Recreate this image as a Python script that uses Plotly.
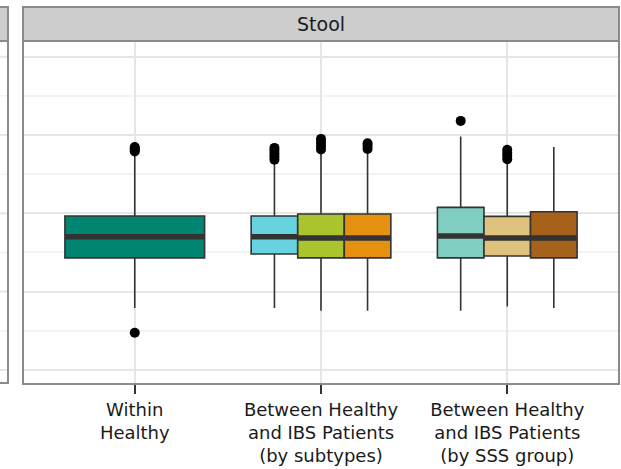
import numpy as np
import plotly.graph_objects as go

# ---- data ----
categories = ["Within<br>Healthy",
              "Between Healthy<br>and IBS Patients<br>(by subtypes)",
              "Between Healthy<br>and IBS Patients<br>(by SSS group)"]
box_names = ["Within Healthy", "IBS-C", "IBS-D", "IBS-M", "Mild", "Moderate", "Severe"]
box_group = [1, 2, 2, 2, 3, 3, 3]
box_slot = [0, -1, 0, 1, -1, 0, 1]
box_colors = ["#018571", "#67D3E0", "#A9C42C", "#E5900F", "#80CDC1", "#DFC27D", "#A6611A"]
lower_fence = [0.358, 0.358, 0.351, 0.351, 0.351, 0.362, 0.358]
q1 = [0.486, 0.496, 0.486, 0.486, 0.486, 0.491, 0.486]
median = [0.540, 0.540, 0.537, 0.537, 0.542, 0.537, 0.537]
q3 = [0.593, 0.593, 0.598, 0.598, 0.615, 0.592, 0.604]
upper_fence = [0.755, 0.731, 0.757, 0.754, 0.796, 0.736, 0.769]
outliers = [
    [0.295, 0.758, 0.762, 0.766, 0.769],
    [0.737, 0.745, 0.752, 0.760, 0.767],
    [0.763, 0.772, 0.781, 0.790],
    [0.764, 0.772, 0.779],
    [0.836],
    [0.738, 0.746, 0.754, 0.762],
    [],
]
panel_title = "Stool"
y_range = [0.164, 1.040]
y_major = 0.2
y_minor = 0.1

# ---- figure ----
W, H = 621, 469
ML, MR, MT, MB = 23, 2, 41, 85
plot_w = W - ML - MR
plot_h = H - MT - MB

fig = go.Figure()

dodge_w = 0.25
for i in range(len(box_names)):
    w = 0.75 if box_group[i] == 1 else dodge_w
    pos = box_group[i] + box_slot[i] * dodge_w
    fig.add_trace(go.Box(
        x=[pos], q1=[q1[i]], median=[median[i]], q3=[q3[i]],
        lowerfence=[lower_fence[i]], upperfence=[upper_fence[i]],
        width=w, fillcolor=box_colors[i], boxpoints=False,
        line=dict(color="#333333", width=1.6), whiskerwidth=0,
        name=box_names[i], showlegend=False, hoverinfo="skip"))
    fig.add_trace(go.Scatter(
        x=[pos - w / 2, pos + w / 2], y=[median[i], median[i]],
        mode="lines", line=dict(color="#333333", width=5.5),
        showlegend=False, hoverinfo="skip"))
    if outliers[i]:
        fig.add_trace(go.Scatter(
            x=[pos] * len(outliers[i]), y=outliers[i], mode="markers",
            marker=dict(color="black", size=10),
            showlegend=False, hoverinfo="skip"))

grid_major = "#E6E6E6"
grid_minor = "#F3F3F3"
font = dict(family="DejaVu Sans", size=18, color="#1a1a1a")

fig.update_layout(
    width=W, height=H,
    margin=dict(l=ML, r=MR, t=MT, b=MB, autoexpand=False),
    paper_bgcolor="white", plot_bgcolor="white",
    boxmode="overlay",
    font=font,
    xaxis=dict(range=[0.4, 3.6], automargin=False,
               tickvals=[1, 2, 3], ticktext=categories,
               showgrid=True, gridcolor=grid_major, gridwidth=2,
               ticks="outside", ticklen=9, tickwidth=1.5, tickcolor="#333333",
               zeroline=False, tickfont=font),
    yaxis=dict(range=y_range, dtick=y_major, tick0=0, showticklabels=False, ticks="",
               automargin=False,
               showgrid=True, gridcolor=grid_major, gridwidth=2, zeroline=False,
               minor=dict(dtick=y_minor, showgrid=True, gridcolor=grid_minor, gridwidth=1.5)),
)

strip_top = 1 + 34 / plot_h
border = dict(color="#8A8A8A", width=2)

# partial neighbouring panel at the left edge (shares the y scale)
lx0, lx1 = -60 / plot_w, -15 / plot_w
minor_vals = np.arange(np.ceil(y_range[0] / y_minor) * y_minor, y_range[1], y_minor)
for v in minor_vals:
    is_major = abs(v / y_major - round(v / y_major)) < 1e-6
    fig.add_shape(type="line", xref="paper", yref="y", x0=lx0, x1=lx1, y0=v, y1=v,
                  line=dict(color=grid_major if is_major else grid_minor,
                            width=2 if is_major else 1.5), layer="below")
fig.add_shape(type="rect", xref="paper", yref="paper", x0=lx0, x1=lx1, y0=1 / plot_h, y1=1,
              line=border, fillcolor="rgba(0,0,0,0)", layer="above")
fig.add_shape(type="rect", xref="paper", yref="paper", x0=lx0, x1=lx1, y0=1, y1=strip_top,
              line=border, fillcolor="#CDCDCD", layer="above")

# main panel border and strip
fig.add_shape(type="rect", xref="paper", yref="paper", x0=0, x1=1, y0=0, y1=1,
              line=border, fillcolor="rgba(0,0,0,0)", layer="above")
fig.add_shape(type="rect", xref="paper", yref="paper", x0=0, x1=1, y0=1, y1=strip_top,
              line=border, fillcolor="#CDCDCD", layer="above")
fig.add_annotation(xref="paper", yref="paper", x=0.5, y=(1 + strip_top) / 2,
                   text=panel_title, showarrow=False, yanchor="middle",
                   font=dict(family="DejaVu Sans", size=19, color="#1a1a1a"))

fig.write_html("out.html")
